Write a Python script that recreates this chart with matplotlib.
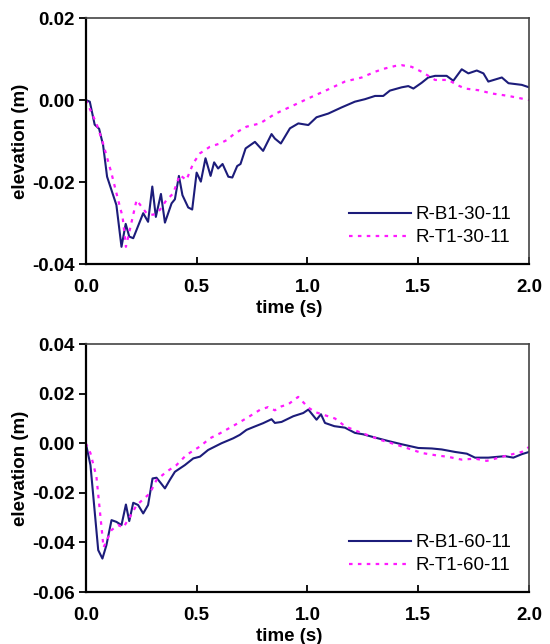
import matplotlib
matplotlib.use("Agg")
import matplotlib.pyplot as plt

# ---- Data: top panel (30-11) ----
t_b30 = [0.0, 0.018, 0.04, 0.06, 0.078, 0.096, 0.138, 0.161, 0.18, 0.196, 0.214, 0.259, 0.281, 0.30,
         0.316, 0.339, 0.357, 0.387, 0.402, 0.42, 0.436, 0.462, 0.48, 0.50, 0.519, 0.54, 0.563, 0.579,
         0.597, 0.617, 0.643, 0.661, 0.683, 0.698, 0.721, 0.763, 0.80, 0.838, 0.853, 0.88, 0.921,
         0.959, 1.004, 1.041, 1.094, 1.154, 1.214, 1.259, 1.305, 1.342, 1.372, 1.425, 1.455, 1.478,
         1.515, 1.545, 1.576, 1.628, 1.658, 1.696, 1.726, 1.764, 1.794, 1.816, 1.877, 1.907, 1.967, 2.0]
e_b30 = [0.0, -0.0004, -0.006, -0.007, -0.011, -0.0187, -0.0256, -0.0358, -0.0302, -0.0333, -0.0337,
         -0.0276, -0.0297, -0.0211, -0.0285, -0.0229, -0.0299, -0.0252, -0.0242, -0.0185, -0.0232,
         -0.0262, -0.0267, -0.0177, -0.0199, -0.0142, -0.0185, -0.0152, -0.0167, -0.0156, -0.0187,
         -0.0189, -0.0161, -0.0156, -0.0118, -0.0102, -0.0124, -0.0083, -0.0094, -0.0106, -0.0069,
         -0.0057, -0.0061, -0.0042, -0.0033, -0.0018, -0.0004, 0.0002, 0.001, 0.001, 0.0023, 0.0031,
         0.0034, 0.0028, 0.0042, 0.0055, 0.0059, 0.0059, 0.0047, 0.0075, 0.0065, 0.0072, 0.0065,
         0.0045, 0.0055, 0.0041, 0.0037, 0.0031]

t_t30 = [0.0, 0.048, 0.078, 0.116, 0.146, 0.166, 0.181, 0.229, 0.274, 0.304, 0.334, 0.364, 0.394,
         0.424, 0.454, 0.485, 0.515, 0.56, 0.605, 0.635, 0.673, 0.725, 0.786, 0.853, 0.929, 1.004,
         1.094, 1.169, 1.245, 1.305, 1.35, 1.395, 1.425, 1.47, 1.515, 1.576, 1.636, 1.674, 1.711,
         1.771, 1.832, 1.907, 2.0]
e_t30 = [0.0, -0.0057, -0.0106, -0.0179, -0.0244, -0.0285, -0.0358, -0.0244, -0.0276, -0.028,
         -0.0268, -0.0244, -0.0228, -0.0183, -0.0195, -0.0154, -0.013, -0.0114, -0.0106, -0.0098,
         -0.0081, -0.0065, -0.0057, -0.0034, -0.0015, 0.0004, 0.0026, 0.0045, 0.0055, 0.0069,
         0.0077, 0.0083, 0.0085, 0.0081, 0.0069, 0.0049, 0.0049, 0.0037, 0.0028, 0.0024, 0.0016,
         0.001, 0.0]

# ---- Data: bottom panel (60-11) ----
t_b60 = [0.0, 0.021, 0.056, 0.075, 0.093, 0.116, 0.138, 0.161, 0.181, 0.196, 0.214, 0.236, 0.259,
         0.281, 0.301, 0.319, 0.337, 0.357, 0.379, 0.402, 0.447, 0.485, 0.515, 0.552, 0.612, 0.665,
         0.695, 0.725, 0.755, 0.80, 0.838, 0.853, 0.883, 0.936, 0.981, 1.004, 1.041, 1.061, 1.079,
         1.121, 1.169, 1.214, 1.252, 1.305, 1.365, 1.425, 1.50, 1.561, 1.606, 1.666, 1.719, 1.756,
         1.816, 1.891, 1.929, 1.967, 2.0]
e_b60 = [0.0, -0.0088, -0.0431, -0.0465, -0.0411, -0.031, -0.0317, -0.033, -0.0247, -0.0314,
         -0.024, -0.0249, -0.0283, -0.0249, -0.0142, -0.0139, -0.0159, -0.0182, -0.0148, -0.0115,
         -0.0088, -0.0061, -0.0054, -0.0027, 0.0, 0.002, 0.0034, 0.0054, 0.0065, 0.0081, 0.0097,
         0.0082, 0.0086, 0.0109, 0.0122, 0.0136, 0.0095, 0.0117, 0.0082, 0.0069, 0.0063, 0.0042,
         0.0036, 0.0023, 0.0009, -0.0004, -0.0019, -0.0021, -0.0025, -0.0035, -0.0042, -0.0058,
         -0.0058, -0.0052, -0.0058, -0.0044, -0.0035]

t_t60 = [0.0, 0.021, 0.048, 0.08, 0.116, 0.146, 0.169, 0.199, 0.229, 0.289, 0.319, 0.364, 0.409,
         0.454, 0.515, 0.56, 0.605, 0.665, 0.725, 0.786, 0.823, 0.853, 0.883, 0.913, 0.958, 1.004,
         1.034, 1.079, 1.124, 1.169, 1.214, 1.274, 1.335, 1.395, 1.455, 1.515, 1.576, 1.636, 1.696,
         1.756, 1.809, 1.907, 1.967, 2.0]
e_t60 = [0.0, -0.004, -0.0135, -0.042, -0.035, -0.033, -0.034, -0.0297, -0.025, -0.0202, -0.0148,
         -0.0115, -0.0088, -0.0047, -0.0013, 0.002, 0.004, 0.007, 0.0101, 0.0135, 0.0146, 0.0133,
         0.0149, 0.0157, 0.0187, 0.0144, 0.0126, 0.0113, 0.01, 0.0069, 0.0052, 0.0032, 0.0012,
         -0.0004, -0.0021, -0.0039, -0.0048, -0.0055, -0.0066, -0.0062, -0.0071, -0.0048, -0.0035,
         -0.0015]

x_ticks = [0.0, 0.5, 1.0, 1.5, 2.0]
y_ticks_top = [-0.04, -0.02, 0.00, 0.02]
y_ticks_bot = [-0.06, -0.04, -0.02, 0.00, 0.02, 0.04]
labels_top = ["R-B1-30-11", "R-T1-30-11"]
labels_bot = ["R-B1-60-11", "R-T1-60-11"]

BLUE = "#1c1c7a"
MAG = "#ff1aff"
FONT = "Liberation Sans"
FS = 13.5

fig = plt.figure(figsize=(5.5, 6.44), dpi=100)
ax1 = fig.add_axes([0.156, 0.590, 0.806, 0.382])
ax2 = fig.add_axes([0.156, 0.0807, 0.806, 0.385])

def style(ax, yticks, ylim):
    ax.set_xlim(0, 2.0)
    ax.set_ylim(*ylim)
    ax.set_xticks(x_ticks)
    ax.set_xticklabels([f"{v:.1f}" for v in x_ticks], fontfamily=FONT, fontweight="bold", fontsize=FS)
    ax.set_yticks(yticks)
    ax.set_yticklabels([f"{v:.2f}" for v in yticks], fontfamily=FONT, fontweight="bold", fontsize=FS)
    ax.tick_params(axis="x", direction="in", length=5, width=1.3, pad=11)
    ax.tick_params(axis="y", direction="out", length=5, width=1.3, pad=3)
    for s in ["left", "bottom"]:
        ax.spines[s].set_linewidth(1.6)
        ax.spines[s].set_color("black")
    for s in ["top", "right"]:
        ax.spines[s].set_linewidth(1.2)
        ax.spines[s].set_color("#444444")
    ax.set_ylabel("elevation (m)", fontfamily=FONT, fontweight="bold", fontsize=FS, labelpad=2)
    ax.set_xlabel("time (s)", fontfamily=FONT, fontweight="bold", fontsize=FS, labelpad=0)
    ax.xaxis.set_label_coords(0.458, -0.145)

def draw(ax, tb, eb, tt, et, labels):
    ax.plot(tb, eb, color=BLUE, lw=1.5, label=labels[0])
    ax.plot(tt, et, color=MAG, lw=1.6, ls=(0, (1.6, 2.4)), label=labels[1])
    ax.legend(loc="lower right", frameon=False, handlelength=3.3, handletextpad=0.25,
              prop={"family": FONT, "size": FS}, labelspacing=0.3,
              borderaxespad=0.55)

draw(ax1, t_b30, e_b30, t_t30, e_t30, labels_top)
style(ax1, y_ticks_top, (-0.04, 0.02))
draw(ax2, t_b60, e_b60, t_t60, e_t60, labels_bot)
style(ax2, y_ticks_bot, (-0.06, 0.04))

fig.savefig("out.png", dpi=100)
